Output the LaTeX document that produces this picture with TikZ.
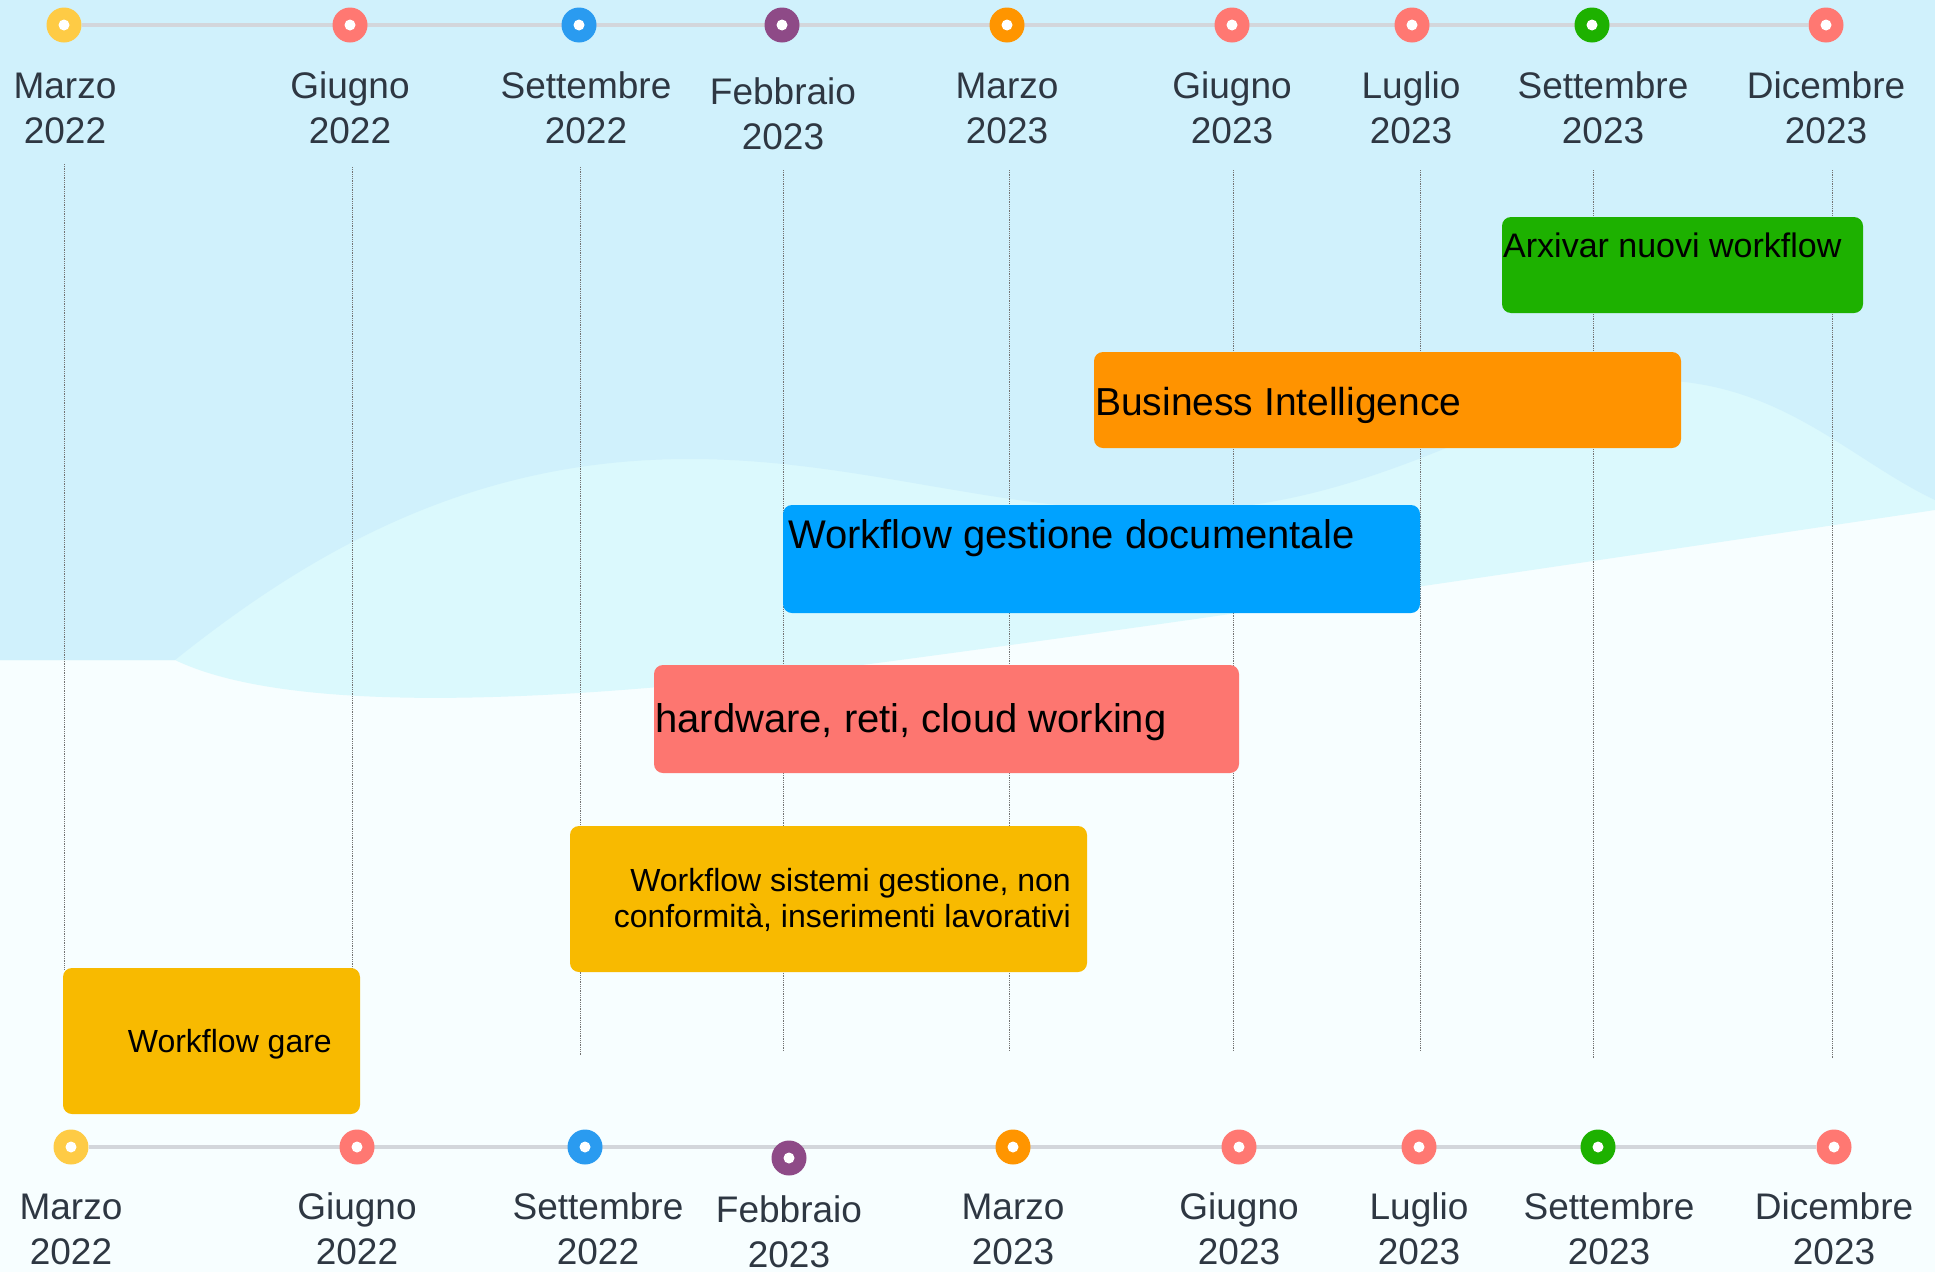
\documentclass[tikz,border=0pt]{standalone}
\usepackage{fontspec}
\setmainfont{Liberation Sans}
\usetikzlibrary{positioning,backgrounds}

\definecolor{bgblue}{HTML}{D0F1FC}
\definecolor{bgcyan}{HTML}{DBF9FD}
\definecolor{bgwhite}{HTML}{F7FEFF}
\definecolor{labgray}{HTML}{2E3742}
\definecolor{axisgray}{HTML}{D3D6DB}
\definecolor{mkyellow}{HTML}{FECB45}
\definecolor{mkred}{HTML}{FF7872}
\definecolor{mkblue}{HTML}{2A9BF0}
\definecolor{mkpurple}{HTML}{8E4A87}
\definecolor{mkorange}{HTML}{FF9500}
\definecolor{mkgreen}{HTML}{1DB100}
\definecolor{barorange}{HTML}{FF9300}
\definecolor{barblue}{HTML}{00A2FF}
\definecolor{barred}{HTML}{FD7670}
\definecolor{baryellow}{HTML}{F8BA00}

\tikzset{
  ring/.style={circle, inner sep=0pt, minimum size=35pt, fill=#1,
    path picture={\fill[white] (path picture bounding box.center) circle (5.5pt);}},
  datelabel/.style={font=\fontsize{37}{45}\selectfont, text=labgray, align=center, inner sep=0pt, anchor=base},
  gridline/.style={draw=black!55, line width=0.8pt, densely dotted},
  bar/.style={rounded corners=9pt, inner sep=0pt},
  bartext/.style={inner sep=0pt, text=black},
}

\begin{document}
\begin{tikzpicture}[x=1pt,y=-1pt]
        \useasboundingbox (0,0) rectangle (1935,1272);
        % markers
        \node[ring=mkyellow] (t1) at (64,25) {};
        \node[ring=mkred] (t2) at (350,25) {};
        \node[ring=mkblue] (t3) at (579,25) {};
        \node[ring=mkpurple] (t4) at (782,25) {};
        \node[ring=mkorange] (t5) at (1007,25) {};
        \node[ring=mkred] (t6) at (1232,25) {};
        \node[ring=mkred] (t7) at (1412,25) {};
        \node[ring=mkgreen] (t8) at (1592,25) {};
        \node[ring=mkred] (t9) at (1826,25) {};
        \node[ring=mkyellow] (b1) at (71,1147) {};
        \node[ring=mkred] (b2) at (357,1147) {};
        \node[ring=mkblue] (b3) at (585,1147) {};
        \node[ring=mkpurple] (b4) at (789,1158) {};
        \node[ring=mkorange] (b5) at (1013,1147) {};
        \node[ring=mkred] (b6) at (1239,1147) {};
        \node[ring=mkred] (b7) at (1419,1147) {};
        \node[ring=mkgreen] (b8) at (1598,1147) {};
        \node[ring=mkred] (b9) at (1834,1147) {};
        % dates
        \begin{scope}[every node/.style={datelabel}]
          \node (tl1) at (65,143) {Marzo\\2022};
          \node (tl2) at (350,143) {Giugno\\2022};
          \node (tl3) at (586,143) {Settembre\\2022};
          \node (tl4) at (783,149) {Febbraio\\2023};
          \node (tl5) at (1007,143) {Marzo\\2023};
          \node (tl6) at (1232,143) {Giugno\\2023};
          \node (tl7) at (1411,143) {Luglio\\2023};
          \node (tl8) at (1603,143) {Settembre\\2023};
          \node (tl9) at (1826,143) {Dicembre\\2023};
          \node (bl1) at (71,1264) {Marzo\\2022};
          \node (bl2) at (357,1264) {Giugno\\2022};
          \node (bl3) at (598,1264) {Settembre\\2022};
          \node (bl4) at (789,1267) {Febbraio\\2023};
          \node (bl5) at (1013,1264) {Marzo\\2023};
          \node (bl6) at (1239,1264) {Giugno\\2023};
          \node (bl7) at (1419,1264) {Luglio\\2023};
          \node (bl8) at (1609,1264) {Settembre\\2023};
          \node (bl9) at (1834,1264) {Dicembre\\2023};
        \end{scope}
        % bars
        \node[bar, fill=mkgreen, minimum width=361pt, minimum height=96pt] (arx) at (1682.5,265) {};
        \node[bar, fill=barorange, minimum width=587pt, minimum height=96pt] (bi) at (1387.5,400) {};
        \node[bar, fill=barblue, minimum width=637pt, minimum height=108pt] (wgd) at (1101.5,559) {};
        \node[bar, fill=barred, minimum width=585pt, minimum height=108pt] (hw) at (946.5,719) {};
        \node[bar, fill=baryellow, minimum width=517pt, minimum height=146pt] (wsg) at (828.5,899) {};
        \node[bar, fill=baryellow, minimum width=297pt, minimum height=146pt] (wg) at (211.5,1041) {};
        \node[bartext, anchor=base west, font=\fontsize{34}{40}\selectfont] (arxtext) at (1503,257) {Arxivar nuovi workflow};
        \node[bartext, anchor=base west, font=\fontsize{39}{45}\selectfont] (bitext) at (1095,415) {Business Intelligence};
        \node[bartext, anchor=base west, font=\fontsize{40}{46}\selectfont] (wgdtext) at (788,548) {Workflow gestione documentale};
        \node[bartext, anchor=base west, font=\fontsize{40}{46}\selectfont] (hwtext) at (655,732) {hardware, reti, cloud working};
        \node[bartext, anchor=base east, align=right, font=\fontsize{32}{36}\selectfont] (wsgtext) at (1071,927) {Workflow sistemi gestione, non\\conformità, inserimenti lavorativi};
        \node[bartext, anchor=base east, font=\fontsize{32}{38}\selectfont] (wgtext) at (332,1052) {Workflow gare};
        \begin{scope}[on background layer]
          \fill[bgwhite] (0,0) rectangle (1935,1272);
          \fill[bgcyan] (0,0) -- (1935,0) -- (1935,510) .. controls (1600,560) and (1200,620) .. (900,660) .. controls (600,700) and (300,720) .. (175,660) -- (0,660) -- cycle;
          \fill[bgblue] (0,0) -- (1935,0) -- (1935,500) .. controls (1850,460) and (1780,380) .. (1650,380) .. controls (1550,380) and (1400,500) .. (1200,510) .. controls (1000,520) and (850,450) .. (650,460) .. controls (450,470) and (300,560) .. (175,660) -- (0,660) -- cycle;
          \draw[gridline] (64,164) -- (64,969);
          \draw[gridline] (352,167) -- (352,969);
          \draw[gridline] (580,167) -- (580,1055);
          \draw[gridline] (783,170) -- (783,1051);
          \draw[gridline] (1009,170) -- (1009,1051);
          \draw[gridline] (1233,170) -- (1233,1051);
          \draw[gridline] (1420,170) -- (1420,1051);
          \draw[gridline] (1593,170) -- (1593,1059);
          \draw[gridline] (1832,170) -- (1832,1059);
          \draw[axisgray, line width=3.5pt] (t1) -- (t9);
          \draw[axisgray, line width=3.5pt] (b1) -- (b9);
        \end{scope}
      \end{tikzpicture}
\end{document}
